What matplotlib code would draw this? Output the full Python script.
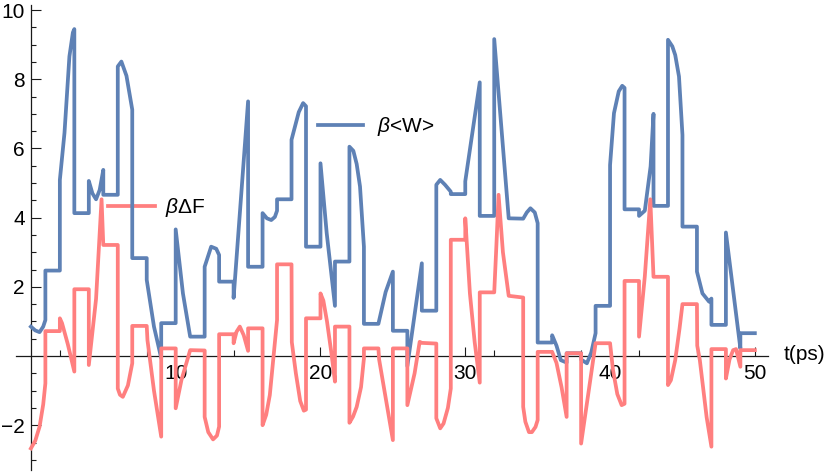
import matplotlib
matplotlib.use("Agg")
import matplotlib.pyplot as plt
from matplotlib.ticker import FixedLocator, NullFormatter

plt.rcParams['font.family'] = ['Liberation Sans', 'DejaVu Sans']
plt.rcParams['mathtext.fontset'] = 'custom'
plt.rcParams['mathtext.rm'] = 'Liberation Sans'
plt.rcParams['mathtext.it'] = 'Liberation Sans:italic'

# beta<W> series (time in ps, value)
w_t = [0, 0.3, 0.6, 0.85, 1.0, 1.0, 2.0, 2.0, 2.32, 2.66, 2.9, 3.0, 3.0, 4.0, 4.0, 4.25, 4.5, 4.75, 5.0, 5.0,
       6.0, 6.0, 6.25, 6.6, 7.0, 7.0, 8.0, 8.0, 8.5, 9.0, 9.0, 10.0, 10.0, 10.5, 11.0, 12.0, 12.0, 12.45, 12.8,
       13.0, 13.0, 14.0, 14.0, 15.0, 15.0, 16.0, 16.0, 16.3, 16.6, 16.85, 17.0, 17.0, 18.0, 18.0, 18.24, 18.5,
       18.8, 19.0, 19.0, 20.0, 20.0, 20.43, 21.0, 21.0, 22.0, 22.0, 22.27, 22.5, 22.73, 23.0, 23.0, 24.0, 24.5,
       25.0, 25.0, 26.0, 26.0, 27.0, 27.0, 28.0, 28.0, 28.27, 28.6, 29.0, 29.0, 30.0, 30.0, 31.0, 31.0, 32.0,
       32.0, 33.0, 34.0, 34.25, 34.5, 34.8, 35.0, 35.0, 36.0, 36.0, 36.3, 36.6, 37.0, 37.0, 38.0, 38.0, 38.4,
       38.7, 39.0, 39.0, 40.0, 40.0, 40.27, 40.6, 40.84, 41.0, 41.0, 42.0, 42.0, 42.4, 42.8, 43.0, 43.0, 44.0,
       44.0, 44.3, 44.5, 44.76, 45.0, 45.0, 46.0, 46.0, 46.38, 46.84, 47.0, 47.0, 48.0, 48.0, 49.0, 49.0, 50.0]
w_v = [0.85, 0.74, 0.69, 0.85, 1.04, 2.47, 2.47, 5.09, 6.45, 8.66, 9.35, 9.45, 4.13, 4.13, 5.06, 4.7, 4.53, 4.8, 5.38, 4.66,
       4.66, 8.37, 8.51, 8.1, 7.12, 2.83, 2.83, 2.2, 0.85, -0.06, 0.95, 0.95, 3.66, 1.81, 0.56, 0.56, 2.58, 3.16, 3.1,
       2.92, 2.15, 2.15, 1.68, 7.36, 2.58, 2.58, 4.13, 3.98, 3.93, 4.02, 4.2, 4.53, 4.53, 6.25, 6.63, 7.05,
       7.31, 7.22, 3.16, 3.16, 5.57, 3.55, 1.45, 2.73, 2.73, 6.05, 5.93, 5.55, 4.9, 3.16, 0.93, 0.93, 1.85,
       2.44, 0.73, 0.73, -0.29, 2.68, 1.31, 1.31, 4.95, 5.09, 4.95, 4.75, 4.68, 4.68, 5.05, 7.91, 4.05, 4.05,
       9.16, 3.98, 3.97, 4.15, 4.27, 4.15, 3.84, 0.39, 0.39, 0.6, 0.3, -0.12, -0.19, 0.08, 0.08, -0.1, -0.21,
       0.1, 0.66, 1.45, 1.45, 5.52, 7.02, 7.65, 7.81, 7.75, 4.24, 4.24, 4.05, 4.2, 5.48, 7.0, 4.34, 4.34,
       9.14, 8.95, 8.7, 8.08, 6.39, 3.74, 3.74, 2.44, 1.81, 1.57, 1.66, 0.9, 0.9, 3.57, 0.22, 0.66, 0.66]

# beta*DeltaF series
f_t = [0, 0.3, 0.6, 0.85, 1.0, 1.0, 2.0, 2.0, 2.15, 2.55, 3.0, 3.0, 4.0, 4.0, 4.5, 4.88, 5.0, 6.0, 6.0, 6.15,
       6.35, 6.7, 7.0, 7.0, 8.0, 8.05, 8.5, 9.0, 9.0, 10.0, 10.0, 10.4, 11.0, 12.0, 12.0, 12.25, 12.58, 12.85,
       13.0, 13.0, 14.0, 14.0, 14.2, 14.43, 14.7, 15.0, 15.0, 16.0, 16.0, 16.25, 16.5, 17.0, 17.0, 18.0, 18.02,
       18.3, 18.6, 18.85, 19.0, 19.0, 20.0, 20.0, 20.2, 20.45, 20.75, 21.0, 21.0, 22.0, 22.0, 22.25, 22.5, 22.8,
       23.0, 23.0, 24.0, 24.05, 24.5, 25.0, 25.0, 26.0, 26.0, 26.5, 26.85, 27.0, 28.0, 28.0, 28.27, 28.5, 28.8,
       29.0, 29.0, 30.0, 30.0, 30.32, 30.65, 31.0, 31.0, 32.0, 32.15, 32.3, 32.6, 33.0, 34.0, 34.0, 34.15, 34.4,
       34.6, 34.85, 35.0, 35.0, 36.0, 36.3, 36.65, 37.0, 37.0, 38.0, 38.0, 39.0, 40.0, 40.2, 40.5, 40.8, 41.0,
       41.0, 42.0, 42.0, 42.4, 42.78, 43.0, 44.0, 44.0, 44.2, 44.5, 44.8, 45.0, 46.0, 46.02, 46.2, 46.67, 47.0,
       47.0, 48.0, 48.0, 48.25, 48.5, 48.7, 49.0, 49.0, 50.0]
f_v = [-2.67, -2.45, -2.04, -1.4, -0.79, 0.72, 0.72, 1.09, 0.95, 0.34, -0.45, 1.93, 1.93, -0.26, 1.65, 4.53, 3.21, 3.21, -0.94, -1.12,
       -1.18, -0.85, -0.21, 0.87, 0.87, 0.46, -1.0, -2.33, 0.22, 0.22, -1.51, -0.69, 0.17, 0.16, -1.76, -2.2, -2.41, -2.3,
       -2.04, 0.63, 0.63, 0.37, 0.7, 0.85, 0.6, 0.15, 0.8, 0.8, -2.0, -1.7, -1.13, 1.04, 2.65, 2.65, 0.4,
       -0.5, -1.3, -1.58, -1.55, 1.09, 1.09, 1.81, 1.6, 1.0, 0.1, -0.74, 0.85, 0.85, -1.93, -1.75, -1.47, -0.9,
       -0.07, 0.22, 0.22, -0.1, -1.2, -2.43, 0.22, 0.22, -1.42, -0.5, 0.41, 0.38, 0.36, -1.8, -2.09, -1.95, -1.5,
       -0.94, 3.36, 3.36, 3.98, 1.81, 0.4, -0.77, 1.84, 1.84, 3.2, 4.66, 3.0, 1.74, 1.69, -1.47, -1.9, -2.2,
       -2.2, -2.05, -1.85, 0.12, 0.12, -0.2, -0.9, -1.76, 0.08, 0.08, -2.53, 0.37, 0.37, -0.4, -1.1, -1.42, -1.38,
       2.17, 2.17, 0.56, 2.3, 4.53, 2.29, 2.29, -0.84, -0.7, -0.12, 0.8, 1.5, 1.5, 0.3, -0.12, -1.77, -2.62,
       0.2, 0.2, -0.65, -0.1, 0.17, 0.2, -0.31, 0.17, 0.17]

x_major = [10, 20, 30, 40, 50]
x_minor = [2, 4, 6, 8, 12, 14, 16, 18, 22, 24, 26, 28, 32, 34, 36, 38, 42, 44, 46, 48]
y_major = [-2, 2, 4, 6, 8, 10]
y_minor = [v / 2 for v in range(-6, 21) if v % 4 != 0]

blue = '#5E81B5'
red = '#FF7F7F'
lw = 2.7
fs = 15

fig = plt.figure(figsize=(8.3, 4.74), dpi=100)
ax = fig.add_axes([0, 0, 1, 1])
ax.set_xlim(-2.134, 55.19)
ax.set_ylim(-3.41, 10.29)

ax.plot(w_t, w_v, color=blue, lw=lw, solid_joinstyle='round', zorder=3)
ax.plot(f_t, f_v, color=red, lw=lw, solid_joinstyle='round', zorder=4)

for s in ['top', 'right']:
    ax.spines[s].set_visible(False)
ax.spines['left'].set_position(('data', 0))
ax.spines['bottom'].set_position(('data', 0))
ax.spines['bottom'].set_bounds(-1.0, 50.9)
ax.spines['left'].set_bounds(-3.3, 10.15)
for s in ['left', 'bottom']:
    ax.spines[s].set_linewidth(0.9)
    ax.spines[s].set_color('#1a1a1a')

ax.xaxis.set_major_locator(FixedLocator(x_major))
ax.xaxis.set_minor_locator(FixedLocator(x_minor))
ax.yaxis.set_major_locator(FixedLocator(y_major))
ax.yaxis.set_minor_locator(FixedLocator(y_minor))
ax.xaxis.set_minor_formatter(NullFormatter())
ax.yaxis.set_minor_formatter(NullFormatter())

ax.tick_params(axis='x', which='major', direction='in', length=6.5, width=0.8, pad=5.5, labelsize=fs, color='#1a1a1a')
ax.tick_params(axis='x', which='minor', direction='in', length=4.3, width=0.8, color='#1a1a1a')
ax.tick_params(axis='y', which='major', direction='in', length=7.2, width=0.8, pad=4.5, labelsize=fs, color='#1a1a1a')
ax.tick_params(axis='y', which='minor', direction='in', length=3.6, width=0.8, color='#1a1a1a')

ax.text(52.0, 0.05, 't(ps)', fontsize=fs, va='center', ha='left')

# inline legends
ax.plot([19.83, 22.93], [6.68, 6.68], color=blue, lw=lw)
ax.text(23.9, 6.62, r'$\beta$<W>', fontsize=fs, va='center', ha='left')
ax.plot([5.32, 8.57], [4.34, 4.34], color=red, lw=lw)
ax.text(9.26, 4.3, r'$\beta$ΔF', fontsize=fs, va='center', ha='left')

fig.savefig('out.png', dpi=100)
